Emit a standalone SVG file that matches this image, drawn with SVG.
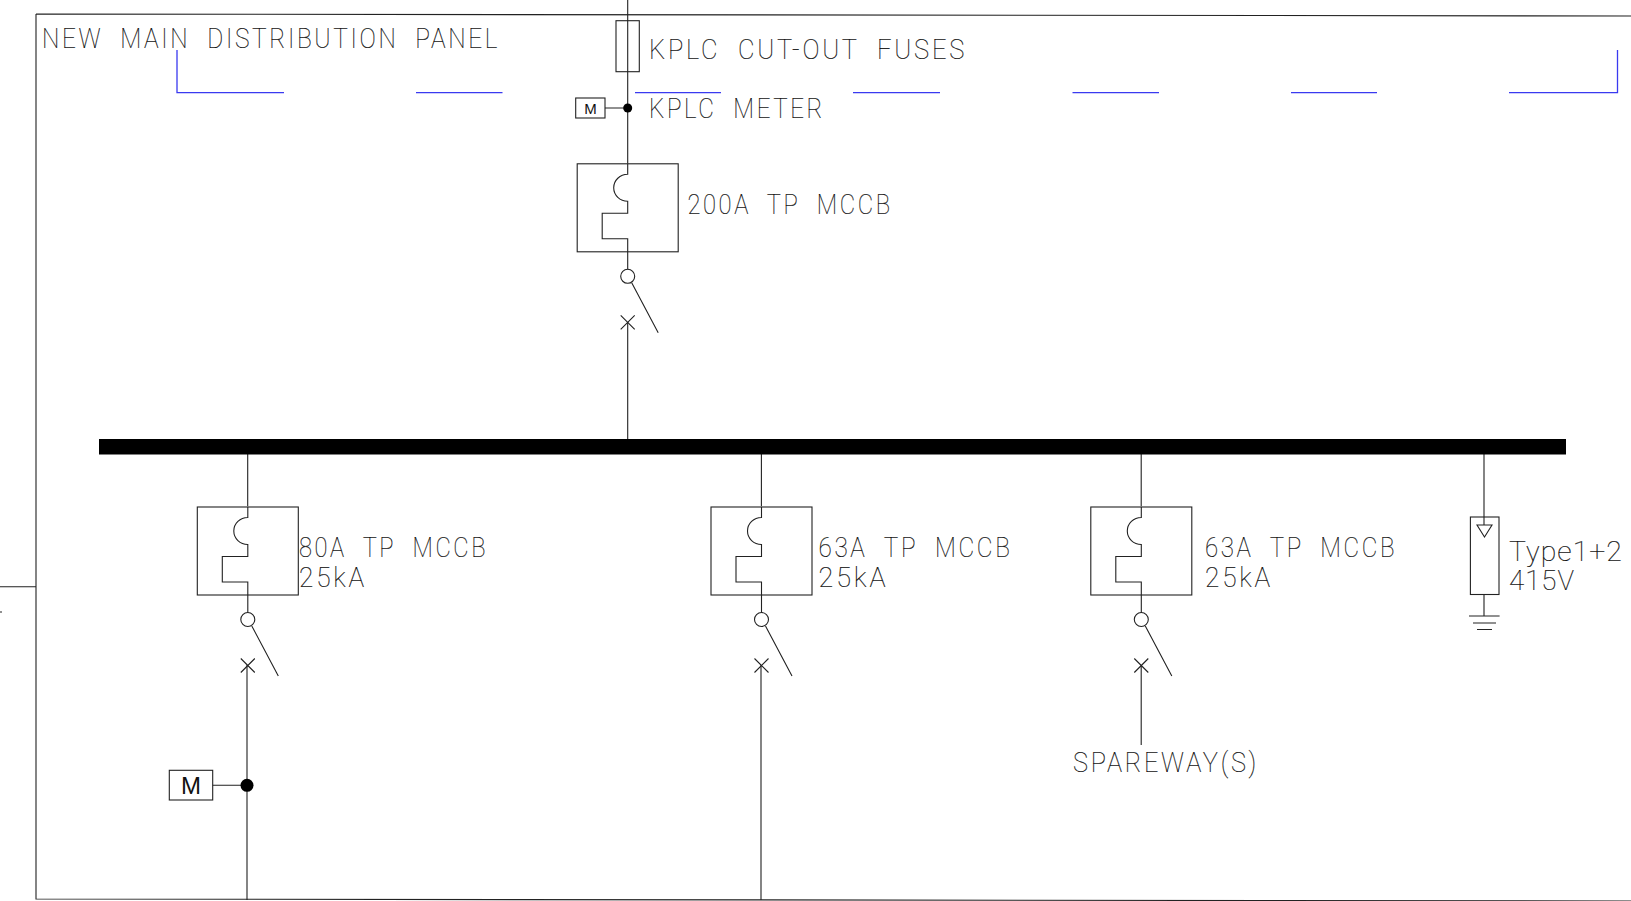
<svg xmlns="http://www.w3.org/2000/svg" width="1631" height="901" viewBox="0 0 1631 901">
<style>
.l{fill:none;stroke:#222;stroke-width:1.1}
.b{fill:none;stroke:#3a3af0;stroke-width:1.3}
.t{font-family:Roboto,"Liberation Sans",sans-serif;font-weight:100;font-size:28px;letter-spacing:3px;white-space:pre;fill:#111;stroke:#111;stroke-width:.2}
.n{letter-spacing:1px;font-size:27px}
.m{font-family:"Liberation Sans",Arial,sans-serif;text-anchor:middle;fill:#111}
</style>
<defs>
<g id="breaker">
<rect class="l" x="-50.5" y="-112.5" width="101" height="88"/>
<path class="l" d="M0 -112.5V-102A14 13.5 0 1 0 0 -75V-63H-25.5V-37.5H0V-7"/>
<circle class="l" cx="0" cy="0" r="7"/>
<path class="l" d="M4 6.500L30.500 56.500M-7 39L7 53M-7 53L7 39"/>
</g>
</defs>
<rect width="1631" height="901" fill="#fff"/>
<g id="connectors">
<path class="l" d="M36 14L1631 16M36 14V899L1631 901M0 586.700H36M0 612H2"/>
<path class="b" d="M177 50V92.600H284M416 92.600H502.500M635 92.600H721M853 92.600H940M1072.500 92.600H1159M1291 92.600H1377M1509 92.600H1617.500V50"/>
<path class="l" d="M627.700 0V163.500M605 108H627.700M627.700 322V440M247.700 454V506.300M247 665V900M212.700 785.300H247M761.400 454V506.300M761 665V900M1141.200 454V506.300M1141.200 665V745M1484 454V525M1484 594.500V616"/>
</g>
<g id="bus"><rect x="99" y="439" width="1467" height="15.500" fill="#000"/></g>
<g id="fuse"><rect class="l" x="616" y="20.700" width="23.300" height="51"/></g>
<g id="meter-kplc">
<rect class="l" x="575.700" y="98" width="29.300" height="20"/>
<text class="m" x="590.500" y="114" font-size="15">M</text>
<circle cx="627.700" cy="108" r="4.500" fill="#000"/>
</g>
<g id="mccb-200"><use href="#breaker" x="627.700" y="276.300"/></g>
<g id="mccb-80"><use href="#breaker" x="247.800" y="619.500"/></g>
<g id="mccb-63a"><use href="#breaker" x="761.500" y="619.500"/></g>
<g id="mccb-63b"><use href="#breaker" x="1141.300" y="619.500"/></g>
<g id="meter-feeder">
<rect class="l" x="169.300" y="770.300" width="43.400" height="29.700"/>
<text class="m" x="191" y="794" font-size="24">M</text>
<circle cx="247" cy="785.300" r="6.500" fill="#000"/>
</g>
<g id="spd">
<rect class="l" x="1470.400" y="517" width="28.600" height="77.500"/>
<path class="l" d="M1477 525H1492L1484.500 537ZM1469 616H1499.600M1473 623H1496M1477 629.500H1492"/>
</g>
<g id="labels">
<text class="t" xml:space="preserve" x="42" y="47.500" textLength="458" lengthAdjust="spacingAndGlyphs">NEW  MAIN  DISTRIBUTION  PANEL</text>
<text class="t" xml:space="preserve" x="649" y="59" textLength="318" lengthAdjust="spacingAndGlyphs">KPLC  CUT-OUT  FUSES</text>
<text class="t" xml:space="preserve" x="649" y="118" textLength="176" lengthAdjust="spacingAndGlyphs">KPLC  METER</text>
<text class="t" xml:space="preserve" x="687.500" y="214" textLength="205" lengthAdjust="spacingAndGlyphs">200A  TP  MCCB</text>
<text class="t" xml:space="preserve" x="299" y="557" textLength="189" lengthAdjust="spacingAndGlyphs">80A  TP  MCCB</text>
<text class="t" x="299" y="587" textLength="68" lengthAdjust="spacingAndGlyphs">25kA</text>
<text class="t" xml:space="preserve" x="818.500" y="557" textLength="194" lengthAdjust="spacingAndGlyphs">63A  TP  MCCB</text>
<text class="t" x="818.500" y="587" textLength="70" lengthAdjust="spacingAndGlyphs">25kA</text>
<text class="t" xml:space="preserve" x="1205" y="557" textLength="192" lengthAdjust="spacingAndGlyphs">63A  TP  MCCB</text>
<text class="t" x="1205" y="587" textLength="68" lengthAdjust="spacingAndGlyphs">25kA</text>
<text class="t n" x="1509" y="561" textLength="114" lengthAdjust="spacingAndGlyphs">Type1+2</text>
<text class="t n" x="1509" y="590" textLength="66" lengthAdjust="spacingAndGlyphs">415V</text>
<text class="t" x="1073" y="772" textLength="186" lengthAdjust="spacingAndGlyphs">SPAREWAY(S)</text>
</g>
</svg>
